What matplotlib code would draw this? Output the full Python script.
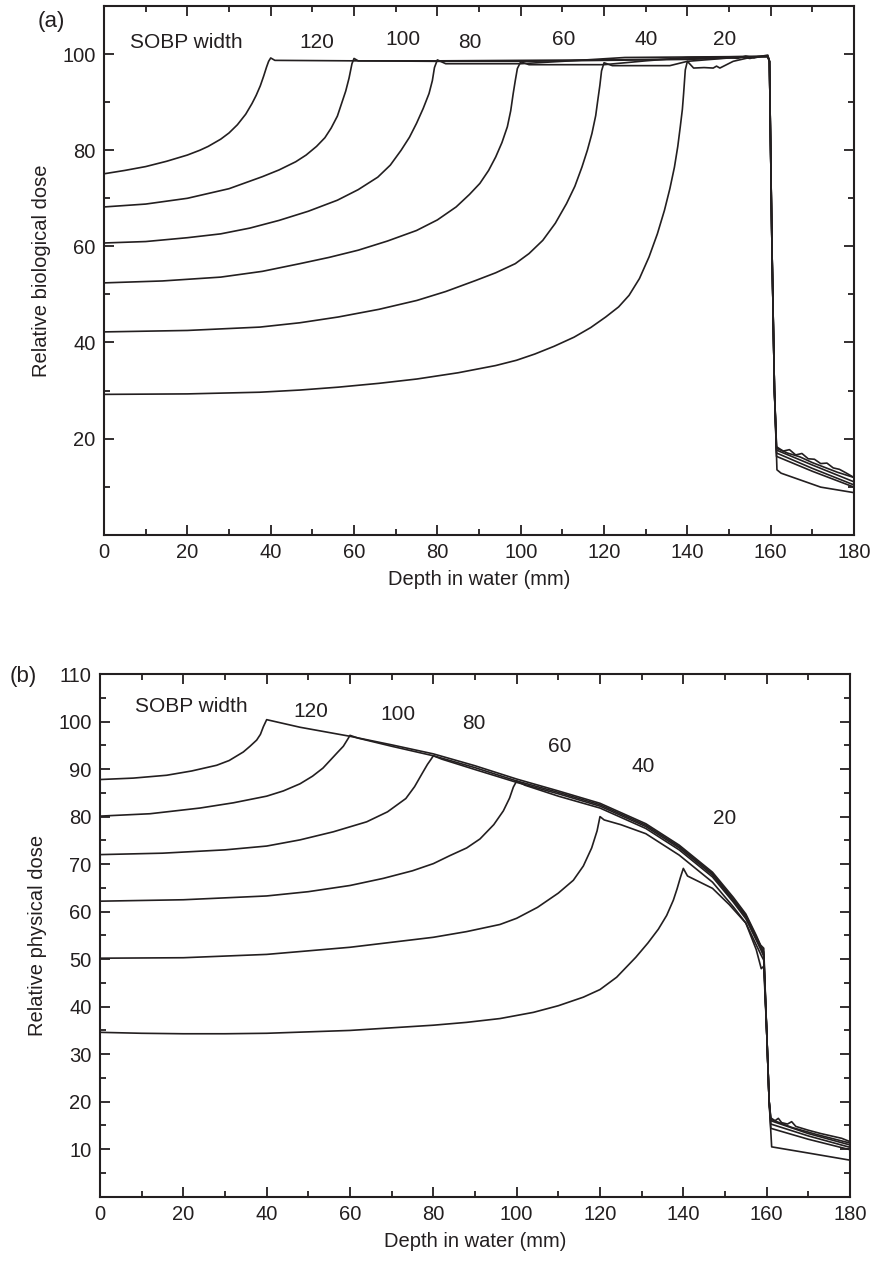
import matplotlib
matplotlib.use('Agg')
import matplotlib.pyplot as plt
from matplotlib.ticker import MultipleLocator

plt.rcParams['font.family'] = ['Liberation Sans', 'DejaVu Sans']

INK = '#231f20'

# ---- panel (a): relative biological dose, one curve per SOBP width ----
sobp_widths = [120, 100, 80, 60, 40, 20]

a_depth_120 = [0, 5, 10, 15, 20, 23, 25, 28, 30, 32, 34, 35.5, 36.5, 37.5, 38.3, 39, 39.5, 40, 41, 60, 80, 100, 120, 140,
               150, 152, 154, 156, 158, 159.3, 159.7, 160.3, 160.9, 161.4,
               163, 164.5, 166, 167.5, 169, 170.5, 172, 173.5, 175, 176.5, 178, 180]
a_dose_120 = [75.1, 75.8, 76.6, 77.7, 79.0, 80.0, 80.8, 82.3, 83.6, 85.3, 87.5, 89.7, 91.4, 93.4, 95.4, 97.3, 98.5, 99.2, 98.7, 98.6, 98.6, 98.7, 98.8, 99.0,
              99.3, 99.1, 99.6, 99.2, 99.6, 99.8, 98.5, 60, 30, 18.3,
              17.4, 17.7, 16.6, 16.9, 15.8, 15.7, 14.8, 14.9, 13.9, 13.6, 12.9, 11.9]

a_depth_100 = [0, 10, 20, 30, 38, 42, 46, 48.5, 51, 53, 54.5, 56, 57, 58, 58.8, 59.5, 60, 61, 80, 100, 120, 140,
               150, 153, 155, 157, 159.3, 159.7, 160.3, 160.9, 161.4,
               164, 167, 170, 173, 176, 180]
a_dose_100 = [68.2, 68.8, 70.0, 72.0, 74.5, 75.9, 77.6, 79.0, 80.8, 82.6, 84.6, 87.1, 89.7, 92.3, 95.0, 98.0, 99.1, 98.6, 98.5, 98.5, 98.7, 98.9,
              99.2, 99.4, 99.1, 99.5, 99.5, 98.5, 60, 30, 18.0,
              17.0, 16.2, 15.0, 14.0, 13.0, 11.9]

a_depth_80 = [0, 10, 20, 28, 35, 42, 49, 56, 61, 65.7, 68.7, 71.3, 73.3, 75, 76.6, 78, 78.8, 79.3, 80, 82, 100, 112, 125, 140, 155,
              159.3, 159.7, 160.3, 160.9, 161.4, 170, 180]
a_dose_80 = [60.7, 61.0, 61.8, 62.6, 63.8, 65.4, 67.3, 69.6, 71.8, 74.4, 76.9, 80.0, 82.7, 85.6, 88.7, 91.8, 94.5, 97.2, 98.8, 98.0, 98.0, 98.6, 99.3, 99.4, 99.5,
             99.5, 98.5, 60, 30, 17.6, 14.5, 11.0]

a_depth_60 = [0, 14, 28, 38, 47, 54, 61, 68, 75, 80, 84.5, 87.7, 90.2, 92.3, 94, 95.5, 96.8, 97.6, 98.2, 98.7, 99.2, 100,
              102, 120, 130, 140, 155, 159.3, 159.7, 160.3, 160.9, 161.4, 170, 180]
a_dose_60 = [52.4, 52.8, 53.6, 54.8, 56.4, 57.7, 59.2, 61.1, 63.3, 65.5, 68.2, 70.8, 73.1, 75.8, 78.6, 81.6, 84.9, 88.2, 91.8, 94.5, 97.0, 98.4,
             97.8, 97.8, 98.6, 99.3, 99.5, 99.5, 98.5, 60, 30, 17.0, 13.8, 10.35]

a_depth_40 = [0, 20, 37.4, 47, 56.2, 66, 75.1, 82, 89.2, 94, 98.7, 102, 105.3, 108.3, 111, 113, 114.7, 116, 117.1, 118, 118.5, 119,
              119.4, 120, 122, 135.8, 140, 150, 157, 159.3, 159.7, 160.3, 160.9, 161.4, 170, 180]
a_dose_40 = [42.2, 42.5, 43.2, 44.1, 45.3, 46.9, 48.75, 50.6, 52.9, 54.5, 56.4, 58.5, 61.25, 64.8, 68.9, 72.5, 76.5, 80.0, 83.5, 87.2, 90.4, 93.5,
             96.5, 98.2, 97.6, 97.6, 98.5, 99.2, 99.5, 99.5, 98.5, 60, 30, 16.3, 13.2, 9.9]

a_depth_20 = [0, 20, 37.4, 47, 56.2, 66, 75.1, 85, 94, 99, 103.4, 108, 112.8, 116.8, 120.4, 123.5, 126, 128.5, 130.8, 132.8,
              134.5, 135.8, 136.9, 137.7, 138.3, 138.8, 139.1, 139.5, 140,
              141.5, 144, 146.2, 147, 147.8, 151, 155, 159.3, 159.7, 160.3, 160.9, 161.5, 162.5, 172, 180]
a_dose_20 = [29.2, 29.3, 29.65, 30.1, 30.7, 31.5, 32.4, 33.7, 35.2, 36.3, 37.6, 39.2, 41.1, 43.1, 45.3, 47.4, 49.8, 53.3, 57.8, 62.6,
             67.5, 72.0, 76.5, 80.8, 84.9, 88.5, 91.8, 96.7, 98.5,
             97.1, 97.2, 97.1, 97.5, 97.1, 98.5, 99.3, 99.6, 98.5, 60, 30, 13.5, 12.8, 9.9, 8.75]

a_curves = [(a_depth_120, a_dose_120), (a_depth_100, a_dose_100), (a_depth_80, a_dose_80),
            (a_depth_60, a_dose_60), (a_depth_40, a_dose_40), (a_depth_20, a_dose_20)]
a_label_x = [51, 71.8, 87.8, 110.2, 130.2, 149]
a_label_y = [102.4, 103, 102.4, 103, 103, 103]

# ---- panel (b): relative physical dose ----
b_depth_120 = [0, 8, 16, 22, 28, 31, 34.4, 36, 37.6, 38.5, 39.2, 40, 48, 60, 70, 80, 90, 100, 110, 120, 131, 139, 147,
               152, 155, 157.5, 158.5, 159.3, 160.0, 160.6, 161.0,
               162, 162.8, 163.6, 165, 166, 167, 170, 173, 176, 178, 180]
b_dose_120 = [87.8, 88.1, 88.7, 89.6, 90.8, 91.8, 93.6, 94.8, 96.1, 97.3, 98.9, 100.4, 98.8, 96.9, 95.1, 93.2, 90.7, 87.9, 85.4, 82.8, 78.5, 74.0, 68.3,
              63.0, 59.5, 55.0, 53.0, 52.3, 35, 20, 16.6,
              16.0, 16.5, 15.6, 15.3, 15.8, 14.8, 14.0, 13.3, 12.7, 12.3, 11.6]

b_depth_100 = [0, 12, 24, 32, 40, 44, 48, 51, 53.5, 55.2, 57, 58.4, 59.6, 60, 62, 70, 80, 90, 100, 110, 120, 131, 139, 147,
               152, 155, 157.5, 158.7, 159.3, 160.0, 160.6, 161.0, 166, 172, 180]
b_dose_100 = [80.1, 80.6, 81.8, 82.9, 84.3, 85.4, 86.9, 88.5, 90.2, 91.8, 93.5, 94.8, 96.5, 97.1, 96.5, 94.8, 92.8, 90.3, 87.5, 85.1, 82.5, 78.2, 73.7, 68.0,
              62.6, 59.2, 54.7, 52.6, 51.5, 35, 20, 16.3, 14.6, 13.1, 11.3]

b_depth_80 = [0, 15, 30, 40, 48, 56, 64, 69, 73.4, 75.5, 77.4, 78.6, 79.4, 80, 82, 90, 100, 110, 120, 131, 139, 147,
              152, 155, 157.5, 158.7, 159.3, 160.0, 160.6, 161.0, 170, 180]
b_dose_80 = [72.0, 72.3, 73.0, 73.8, 75.1, 76.8, 78.9, 81.0, 83.8, 86.3, 89.2, 91.0, 92.0, 92.8, 92.1, 89.9, 87.2, 84.8, 82.2, 77.9, 73.4, 67.7,
             62.3, 58.9, 54.4, 52.2, 51.0, 35, 20, 16.0, 13.3, 10.9]

b_depth_60 = [0, 20, 40, 50, 60, 68, 75, 80, 84, 88, 91.2, 94.5, 96.8, 98.3, 99.2, 100, 102, 110, 120, 131, 139, 147,
              152, 155, 157.5, 158.7, 159.3, 160.0, 160.6, 161.0, 170, 180]
b_dose_60 = [62.2, 62.5, 63.3, 64.2, 65.5, 67.0, 68.6, 70.1, 71.8, 73.4, 75.3, 78.3, 81.2, 83.9, 86.2, 87.5, 86.6, 84.3, 81.8, 77.5, 73.0, 67.3,
             62.0, 58.5, 54.0, 51.8, 50.6, 35, 20, 15.3, 12.8, 10.4]

b_depth_40 = [0, 20, 40, 60, 80, 88, 96, 100, 105, 110, 113.6, 116, 118, 119.3, 120, 121, 125, 131, 139, 147,
              152, 155, 157.5, 158.7, 159.3, 160.0, 160.6, 161.0, 170, 180]
b_dose_40 = [50.2, 50.3, 51.0, 52.5, 54.6, 55.8, 57.3, 58.6, 60.9, 63.9, 66.6, 69.6, 73.4, 77.0, 80.0, 79.3, 78.3, 76.4, 71.9, 66.2,
             61.0, 57.6, 53.0, 50.8, 49.8, 35, 20, 14.4, 12.1, 9.9]

b_depth_20 = [0, 10, 20, 30, 40, 60, 80, 88, 96, 104, 110, 116, 120, 124, 128.6, 131.5, 134, 136, 137.6, 138.5, 139.3, 140,
              141, 147, 151, 155, 157.5, 158.7, 159.3, 160.0, 160.6, 161.2, 170, 180]
b_dose_20 = [34.6, 34.4, 34.3, 34.3, 34.4, 35.0, 36.1, 36.7, 37.5, 38.8, 40.2, 42.0, 43.6, 46.2, 50.4, 53.4, 56.3, 59.2, 62.4, 64.8, 67.2, 69.1,
             67.5, 64.9, 61.5, 57.6, 52.0, 48.0, 48.5, 35, 20, 10.5, 9.2, 7.7]

b_curves = [(b_depth_120, b_dose_120), (b_depth_100, b_dose_100), (b_depth_80, b_dose_80),
            (b_depth_60, b_dose_60), (b_depth_40, b_dose_40), (b_depth_20, b_dose_20)]
b_label_x = [50.6, 71.6, 89.6, 110.4, 130.4, 150]
b_label_y = [102.1, 101.4, 99.6, 94.7, 90.5, 79.6]


def style_axes(ax, yminor, yticks):
    ax.set_xlim(0, 180)
    ax.set_ylim(0, 110)
    ax.xaxis.set_major_locator(MultipleLocator(20))
    ax.xaxis.set_minor_locator(MultipleLocator(10))
    ax.set_yticks(yticks)
    ax.yaxis.set_minor_locator(MultipleLocator(yminor))
    ax.tick_params(which='both', direction='in', top=True, right=True, color=INK,
                   labelcolor=INK, labelsize=14.5, width=1.3)
    ax.tick_params(which='major', length=7, pad=6)
    ax.tick_params(which='minor', length=4)
    for s in ax.spines.values():
        s.set_linewidth(1.5)
        s.set_color(INK)
    ax.set_xlabel('Depth in water (mm)', fontsize=14.5, color=INK, labelpad=6)


fig = plt.figure(figsize=(8.78, 12.62), dpi=100)

ax_a = fig.add_axes([0.1185, 0.5763, 0.8542, 0.4189])
for d, v in a_curves:
    ax_a.plot(d, v, color=INK, lw=1.2)
style_axes(ax_a, 10, [20, 40, 60, 80, 100])
ax_a.set_ylabel('Relative biological dose', fontsize=14.5, color=INK, labelpad=8)
ax_a.text(19.8, 102.4, 'SOBP width', fontsize=15, color=INK, ha='center', va='center')
for w, lx, ly in zip(sobp_widths, a_label_x, a_label_y):
    ax_a.text(lx, ly, str(w), fontsize=15, color=INK, ha='center', va='center')

ax_b = fig.add_axes([0.1139, 0.0517, 0.8542, 0.4142])
for d, v in b_curves:
    ax_b.plot(d, v, color=INK, lw=1.2)
style_axes(ax_b, 5, list(range(10, 111, 10)))
ax_b.set_ylabel('Relative physical dose', fontsize=14.5, color=INK, labelpad=8)
ax_b.text(22, 103.1, 'SOBP width', fontsize=15, color=INK, ha='center', va='center')
for w, lx, ly in zip(sobp_widths, b_label_x, b_label_y):
    ax_b.text(lx, ly, str(w), fontsize=15, color=INK, ha='center', va='center')

fig.text(0.0581, 0.9826, '(a)', fontsize=16, color=INK, ha='center', va='center')
fig.text(0.0262, 0.4636, '(b)', fontsize=16, color=INK, ha='center', va='center')

fig.savefig('out.png', dpi=100)
